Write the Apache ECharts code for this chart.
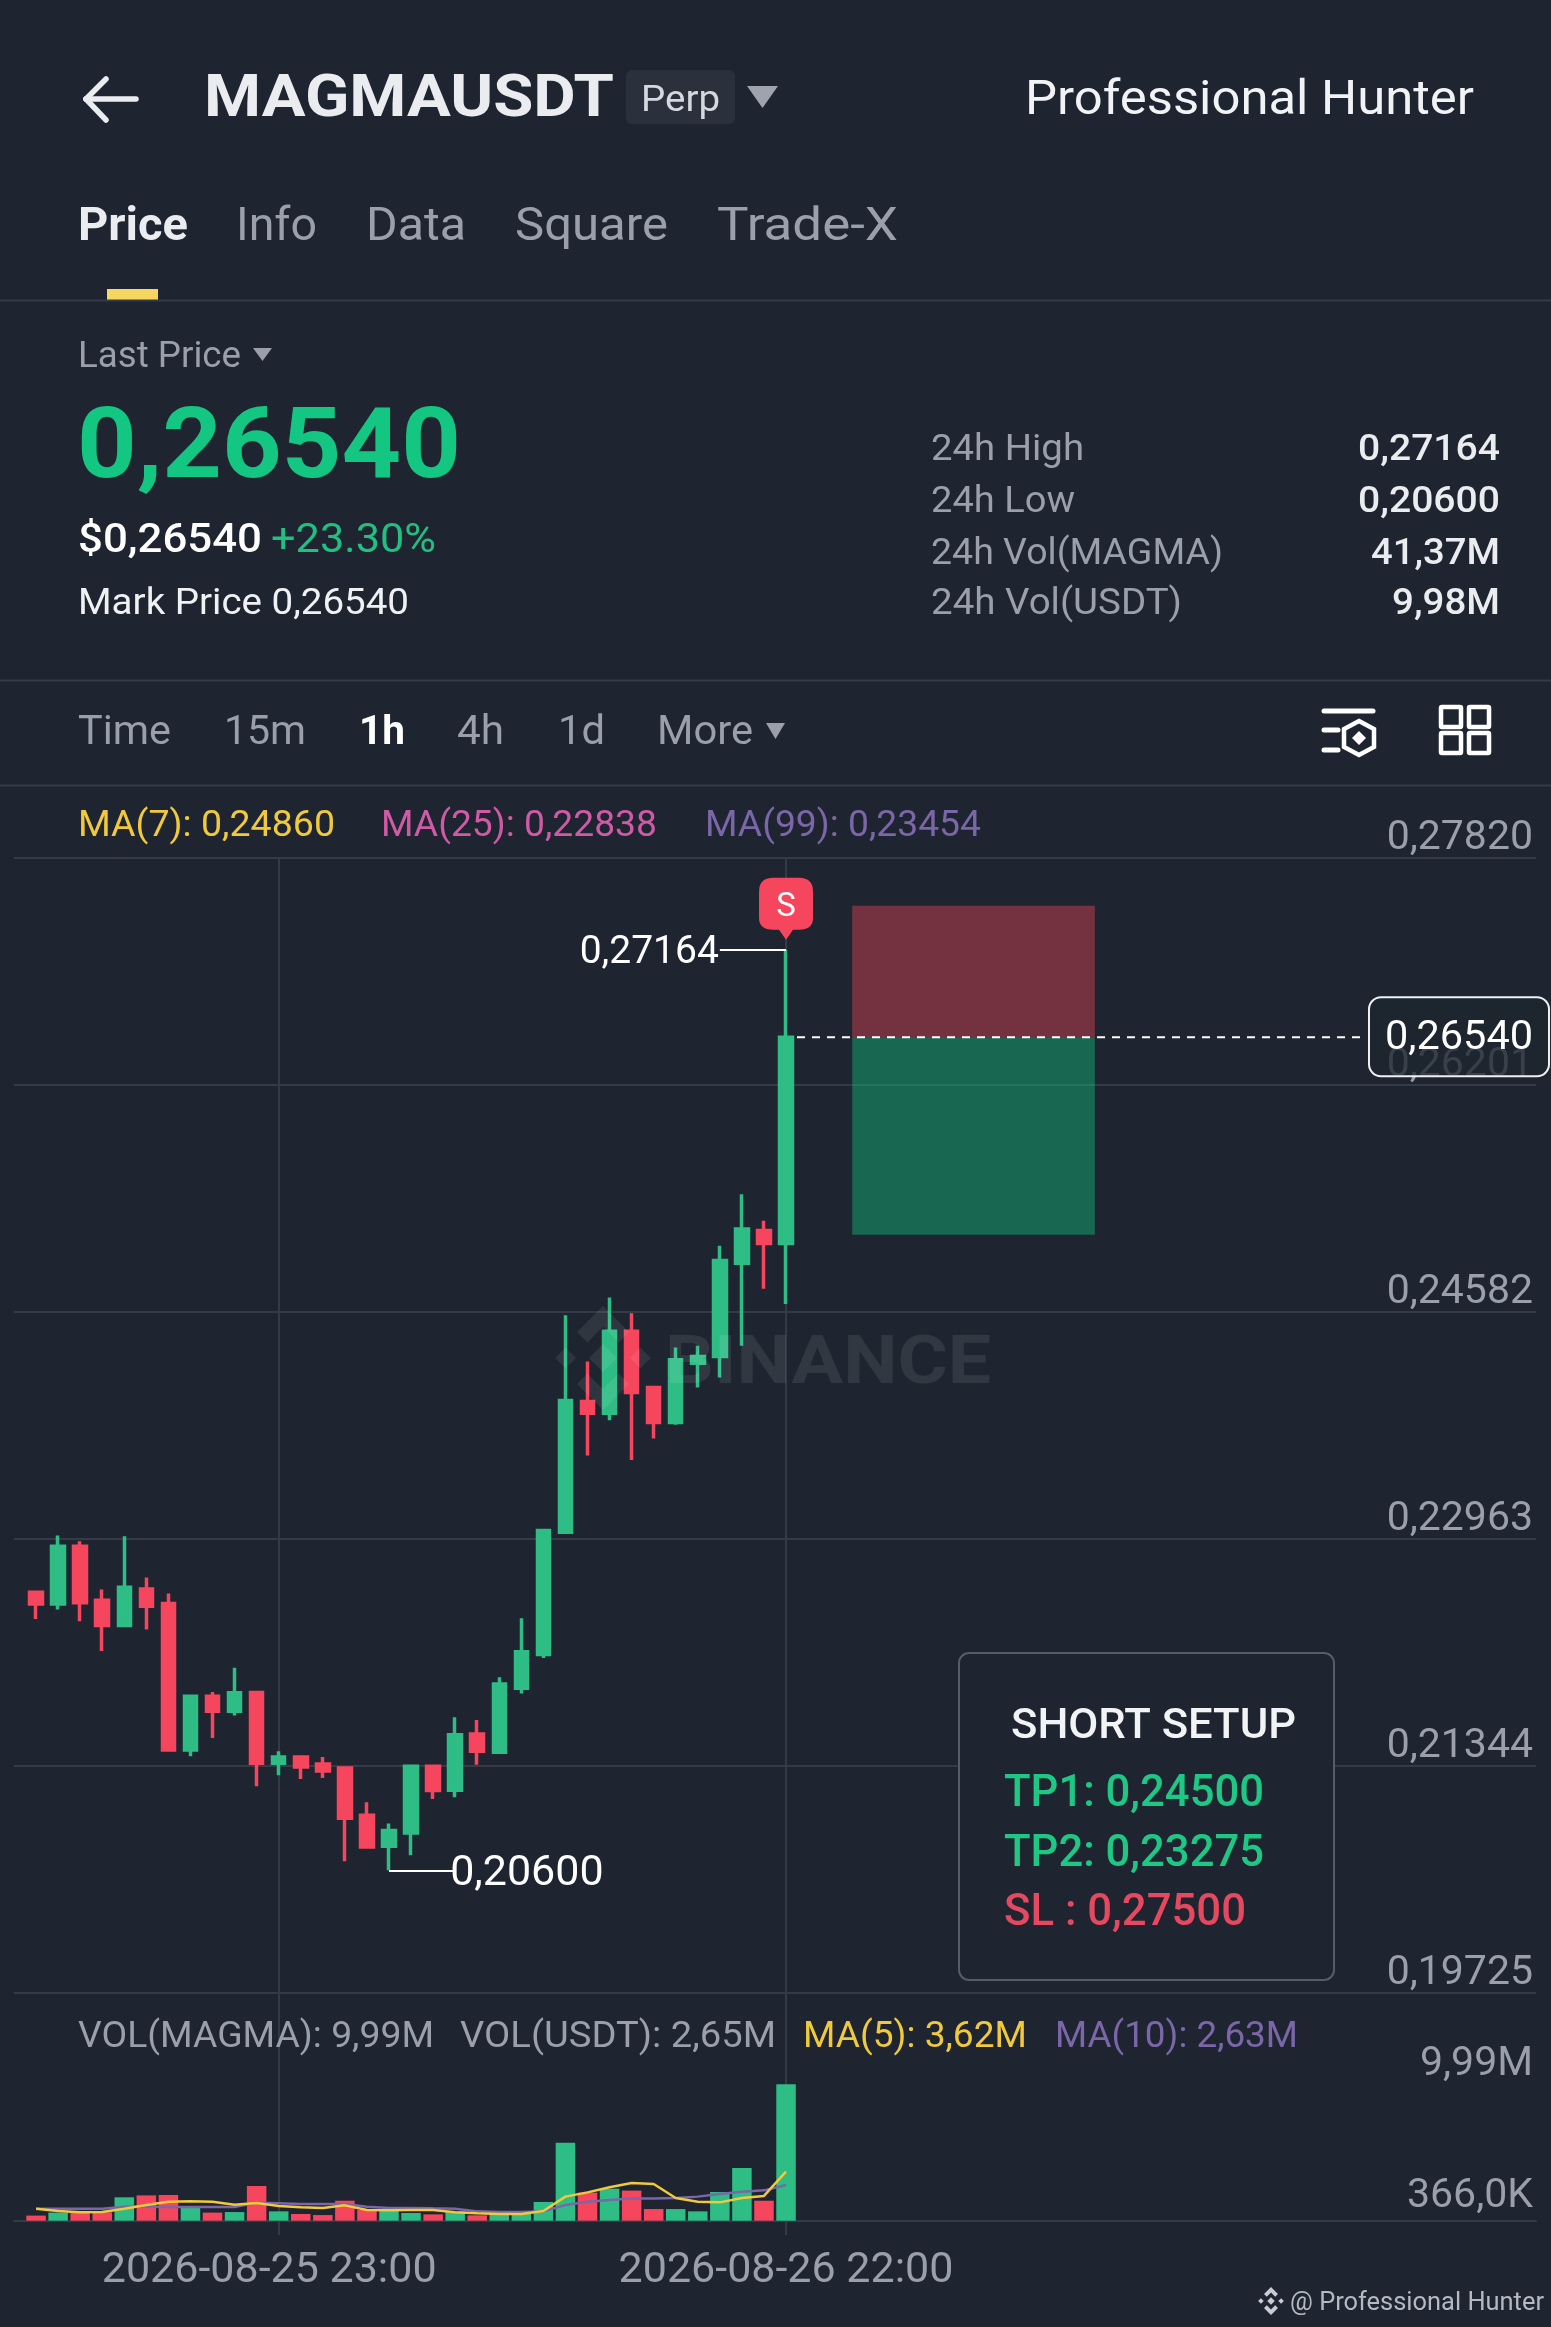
<!DOCTYPE html>
<html><head><meta charset="utf-8">
<style>html,body{margin:0;padding:0;background:#1e2530}#c{width:1551px;height:2327px}</style>
<script src="https://cdn.jsdelivr.net/npm/echarts@6/dist/echarts.min.js"></script>
</head><body><div id="c"></div>
<script>
const times=['2026-08-25 12:00','2026-08-25 13:00','2026-08-25 14:00','2026-08-25 15:00','2026-08-25 16:00','2026-08-25 17:00','2026-08-25 18:00','2026-08-25 19:00','2026-08-25 20:00','2026-08-25 21:00','2026-08-25 22:00','2026-08-25 23:00','2026-08-26 00:00','2026-08-26 01:00','2026-08-26 02:00','2026-08-26 03:00','2026-08-26 04:00','2026-08-26 05:00','2026-08-26 06:00','2026-08-26 07:00','2026-08-26 08:00','2026-08-26 09:00','2026-08-26 10:00','2026-08-26 11:00','2026-08-26 12:00','2026-08-26 13:00','2026-08-26 14:00','2026-08-26 15:00','2026-08-26 16:00','2026-08-26 17:00','2026-08-26 18:00','2026-08-26 19:00','2026-08-26 20:00','2026-08-26 21:00','2026-08-26 22:00'];
const opens=[.22583,.22499,.22911,.22526,.22345,.22606,.22502,.21458,.21841,.21734,.21867,.21363,.21408,.21358,.21330,.20992,.20771,.20866,.21342,.21170,.21572,.21441,.21898,.22138,.23011,.23942,.23859,.24444,.24042,.23793,.24216,.24263,.24929,.25162,.25069];
const closes=[.22499,.22911,.22507,.22345,.22618,.22483,.21458,.21841,.21734,.21865,.21363,.21408,.21337,.21308,.20971,.20766,.20883,.21342,.21168,.21567,.21449,.21929,.22159,.23022,.23950,.23859,.24444,.24007,.23793,.24240,.24263,.24948,.25172,.25069,.26540];
const lows=[.22392,.22459,.22376,.22164,.22345,.22316,.21458,.21413,.21544,.21703,.21199,.21277,.21251,.21258,.20664,.20766,.20600,.20707,.21109,.21120,.21353,.21441,.21860,.22114,.23011,.23557,.23809,.23526,.23679,.23776,.24042,.24114,.24340,.24746,.24637];
const highs=[.22583,.22987,.22946,.22602,.22982,.22687,.22573,.21841,.21872,.22045,.21877,.21449,.21418,.21408,.21342,.21085,.20933,.21346,.21351,.21691,.21672,.21976,.22397,.23030,.24558,.24228,.24684,.24572,.24045,.24328,.24340,.25053,.25421,.25231,.27164];
const volumes=[.37,.59,.66,.61,1.71,1.85,1.88,.93,.59,.63,2.54,.68,.49,.41,1.46,.78,.78,.56,.46,.66,.39,.54,.54,1.37,5.71,2.05,2.34,2.20,.85,.85,.68,2.10,3.86,1.46,9.99];
const ma5=[.88,.71,.61,.63,.88,1.15,1.39,1.42,1.39,1.17,1.29,1.07,.98,.93,1.12,.78,.76,.78,.78,.61,.54,.49,.49,.71,1.76,2.07,2.44,2.76,2.68,1.66,1.39,1.34,1.66,1.81,3.59];
const ma10=[.88,.88,.88,.88,1.02,1.02,1.00,1.00,1.00,1.00,1.32,1.27,1.22,1.22,1.22,1.02,.93,.93,.90,.88,.68,.63,.63,.68,1.15,1.39,1.51,1.63,1.63,1.66,1.76,1.95,2.12,2.22,2.61];
const priceTicks=[.19725,.21344,.22963,.24582,.26201,.27820];
const volTicks=[.366,9.99];
const lastPrice=.2654, high24=.27164, low24=.206, slTop=.27478, tpBottom=.25131;
const FONT='Roboto';
const GREEN='#2ebd85',RED='#f6465d',GRID='#343b47',GRAY='#9a9fab',BG='#1e2530';
const SLOTS=70, first=1; // candle i sits at category i+first
const cats=Array.from({length:SLOTS},(_,k)=>times[k-first]||'');
const comma=v=>v.toFixed(5).replace('.',',');
const labelledX=new Set([12,35]);
const chart=echarts.init(document.getElementById('c'),null,{renderer:'canvas'});
chart.setOption({
 backgroundColor:BG,animation:false,textStyle:{fontFamily:FONT},
 grid:[{left:14,top:857.7,width:1522,height:1135.3},{left:14,top:1993,width:1522,height:242}],
 xAxis:[0,1].map(g=>({type:'category',gridIndex:g,data:cats,boundaryGap:false,
   axisTick:{show:false},
   axisLine:g?{show:true,onZero:true,lineStyle:{color:GRID,width:2}}:{show:false},
   splitLine:{show:true,interval:(k)=>labelledX.has(k),lineStyle:{color:GRID,width:2}},
   axisLabel:g?{show:true,interval:(k)=>labelledX.has(k),color:GRAY,fontSize:43,fontFamily:FONT,margin:15,hideOverlap:false,
      formatter:(v,k)=>k===12?'{a|'+v+'}':v,rich:{a:{fontSize:43,color:GRAY,fontFamily:FONT,padding:[0,19,0,0]}}}:{show:false}})),
 yAxis:[
  {type:'value',gridIndex:0,position:'right',min:.19725,max:.2782,
   axisLine:{show:false},axisTick:{show:false,customValues:priceTicks},
   splitLine:{show:true,lineStyle:{color:GRID,width:2}},
   axisLabel:{inside:true,margin:3,customValues:priceTicks,color:GRAY,fontSize:41,lineHeight:38,fontFamily:FONT,verticalAlign:'bottom',formatter:comma}},
  {type:'value',gridIndex:1,position:'right',min:-1.05,max:16.67,
   axisLine:{show:false},axisTick:{show:false,customValues:volTicks},splitLine:{show:false},
   axisLabel:{inside:true,margin:3,customValues:volTicks,color:GRAY,fontSize:41,lineHeight:38,fontFamily:FONT,verticalAlign:'bottom',
     formatter:v=>v>=1?v.toFixed(2).replace('.',',')+'M':(v*1000).toFixed(1).replace('.',',')+'K'}}
 ],
 series:[
  {type:'candlestick',name:'Price',xAxisIndex:0,yAxisIndex:0,barWidth:13,z:3,
   encode:{x:0,y:[1,2,3,4]},
   data:opens.map((o,i)=>[i+first,o,closes[i],lows[i],highs[i]]),
   itemStyle:{color:GREEN,color0:RED,borderColor:GREEN,borderColor0:RED,borderWidth:3.5},
   markArea:{silent:true,z:1,data:[
     [{coord:[38,slTop],itemStyle:{color:'rgba(246,70,93,0.4)'}},{coord:[49,lastPrice]}],
     [{coord:[38,lastPrice],itemStyle:{color:'rgba(14,203,129,0.4)'}},{coord:[49,tpBottom]}]]},
   markLine:{silent:true,symbol:'none',z:4,lineStyle:{color:'#ffffff',width:2,type:'solid'},
     label:{color:'#fff',fontFamily:FONT,distance:1},data:[
     [{coord:[32,high24],label:{position:'start',fontSize:39,offset:[0,4],formatter:comma(high24)}},{coord:[35,high24]}],
     [{coord:[17,low24],label:{position:'end',fontSize:43,offset:[-6,4],formatter:comma(low24)}},{coord:[20,low24]}]]},
   markPoint:{silent:true,z:5,data:[{coord:[35,high24],symbol:'path://M14 0 H40 Q54 0 54 14 V40 Q54 52 40 52 L34 52 L27 62 L20 52 L14 52 Q0 52 0 40 V14 Q0 0 14 0 Z',
     symbolSize:[54,62],symbolOffset:[0,-41],itemStyle:{color:RED},
     label:{show:true,formatter:'S',color:'#fff',fontSize:33,fontFamily:FONT,offset:[0,-1]}}]}},
  {type:'bar',name:'VOL',xAxisIndex:1,yAxisIndex:1,barWidth:19.5,z:2,
   data:volumes.map((v,i)=>({value:[i+first,v],itemStyle:{color:closes[i]>=opens[i]?GREEN:RED}}))},
  {type:'line',name:'MA5',xAxisIndex:1,yAxisIndex:1,showSymbol:false,z:4,lineStyle:{color:'#f0c93c',width:2.5},data:ma5.map((v,i)=>[i+first,v])},
  {type:'line',name:'MA10',xAxisIndex:1,yAxisIndex:1,showSymbol:false,z:3,lineStyle:{color:'#7a66a8',width:2.5},data:ma10.map((v,i)=>[i+first,v])}
 ]
});
// page furniture
const Z=50;
const mctx=document.createElement('canvas').getContext('2d');
// text fitted to a measured width, so Roboto occupies the same span as the original UI font
const T=(x,y,text,size,fill,weight,w,align)=>{
  weight=weight||400;align=align||'left';
  mctx.font=weight+' '+size+'px '+FONT;
  const sx=w?w/mctx.measureText(text).width:1;
  return {type:'text',z:Z,x,y,scaleX:sx,style:{x:0,y:0,text,fontSize:size,fill,fontWeight:weight,fontFamily:FONT,align,verticalAlign:'middle'}};
};
const R=(x,y,w,h,fill,stroke,r,lw)=>({type:'rect',z:Z-1,shape:{x,y,width:w,height:h,r:r||0},style:{fill:fill||'none',stroke:stroke||null,lineWidth:lw||0}});
const P=(pts,fill)=>({type:'polygon',z:Z,shape:{points:pts},style:{fill}});
const L=(x1,y1,x2,y2,stroke,lw,dash)=>({type:'line',z:Z,shape:{x1,y1,x2,y2},style:{stroke,lineWidth:lw,lineDash:dash||null,lineCap:dash?'butt':'round'}});
const diamond=(cx,cy,r,fill)=>P([[cx,cy-r],[cx+r,cy],[cx,cy+r],[cx-r,cy]],fill);
const logo=(cx,cy,s,fill)=>[diamond(cx,cy,.27*s,fill),diamond(cx-.72*s,cy,.2*s,fill),diamond(cx+.72*s,cy,.2*s,fill),
  P([[cx,cy-s],[cx+.5*s,cy-.5*s],[cx+.3*s,cy-.3*s],[cx,cy-.6*s],[cx-.3*s,cy-.3*s],[cx-.5*s,cy-.5*s]],fill),
  P([[cx,cy+s],[cx+.5*s,cy+.5*s],[cx+.3*s,cy+.3*s],[cx,cy+.6*s],[cx-.3*s,cy+.3*s],[cx-.5*s,cy+.5*s]],fill)];
const lastY=chart.convertToPixel({yAxisIndex:0},lastPrice);
const W='#eaecef', GR='#13c782';
const els=[
 // header
 L(86,99,136,99,W,5.5),L(86,99,106,79,W,5.5),L(86,99,106,120,W,5.5),
 T(204,101,'MAGMAUSDT',60,W,700,410),
 R(626,70,109,54,'#2a303c',null,6),
 T(641,102,'Perp',37,'#d5d8dd',400,79),
 P([[747,86],[778,86],[762.5,108]],'#9ea3ae'),
 T(1025,102,'Professional Hunter',48,'#f2f3f5',400,449),
 T(78,228,'Price',47,W,700,110),T(236,228,'Info',47,GRAY,400,81),T(366,228,'Data',47,GRAY,400,100),T(515,228,'Square',47,GRAY,400,153),T(717,228,'Trade-X',47,GRAY,400,181),
 R(107,289,51,11,'#f6d65e'),
 L(0,300.5,1551,300.5,GRID,2),
 T(78,358,'Last Price',37,GRAY,400,163),P([[253,348],[272,348],[262.5,361]],GRAY),
 T(77,452,'0,26540',99,GR,700,384),
 T(78,542,'$0,26540',41,'#fff',500,184),T(271,542,'+23.30%',41,'#22bf82',400,165),
 T(78,605,'Mark Price 0,26540',37,'#f0f1f3',400,331),
 T(931,451,'24h High',37,GRAY,400,153),T(931,503,'24h Low',37,GRAY,400,144),T(931,555,'24h Vol(MAGMA)',37,GRAY,400,292),T(931,605,'24h Vol(USDT)',37,GRAY,400,251),
 T(1500,451,'0,27164',37,W,500,142,'right'),T(1500,503,'0,20600',37,W,500,142,'right'),T(1500,555,'41,37M',37,W,500,129,'right'),T(1500,605,'9,98M',37,W,500,108,'right'),
 L(0,680.5,1551,680.5,GRID,2),
 T(78,734,'Time',41,GRAY,400,93),T(224,734,'15m',41,GRAY,400,82),T(359,734,'1h',41,'#fff',700,46),T(457,734,'4h',41,GRAY,400,47),T(558,734,'1d',41,GRAY,400,47),T(657,734,'More',41,GRAY,400,96),
 P([[766,723],[785,723],[775.5,739]],GRAY),
 L(0,785.5,1551,785.5,GRID,2),
 // toolbar icons
 L(1324,711,1373,711,'#fff',5),L(1324,730,1338,730,'#fff',5),L(1324,750,1338,750,'#fff',5),
 {type:'polygon',z:Z,shape:{points:[[1359,721],[1374,729],[1374,747],[1359,755],[1344,747],[1344,729]]},style:{fill:'none',stroke:'#fff',lineWidth:4.5}},
 diamond(1359,738,7,'#fff'),
 R(1441,707,20,20,null,'#fff',1,4.5),R(1469,707,20,20,null,'#fff',1,4.5),R(1441,733,20,20,null,'#fff',1,4.5),R(1469,733,20,20,null,'#fff',1,4.5),
 // legends
 T(78,827,'MA(7): 0,24860',36,'#f0c93c',400,257),T(381,827,'MA(25): 0,22838',36,'#cf5aa6',400,276),T(705,827,'MA(99): 0,23454',36,'#7a66a8',400,276),
 T(78,2038,'VOL(MAGMA): 9,99M',36,GRAY,400,356),T(460,2038,'VOL(USDT): 2,65M',36,GRAY,400,316),T(803,2038,'MA(5): 3,62M',36,'#f0c93c',400,224),T(1055,2038,'MA(10): 2,63M',36,'#7a66a8',400,243),
 // price tag + dashed line
 L(797,lastY,1366,lastY,'#fff',2,[8,7]),
 {type:'rect',z:Z+1,shape:{x:1369,y:lastY-40,width:180,height:79,r:12},style:{fill:'rgba(30,37,48,0.78)',stroke:'#eef0f2',lineWidth:2}},
 {...T(1533,lastY+2,comma(lastPrice),41,'#fff',400,148,'right'),z:Z+2},
 // setup box
 {type:'rect',z:Z-1,shape:{x:959,y:1653,width:375,height:327,r:10},style:{fill:BG,stroke:'#565d69',lineWidth:2}},
 T(1011,1727,'SHORT SETUP',42,'#f2f3f5',500,285),
 T(1004,1795,'TP1: 0,24500',44,'#1fc784',500,260),T(1004,1855,'TP2: 0,23275',44,'#1fc784',500,260),T(1004,1914,'SL : 0,27500',44,'#e5485f',500,242),
 // watermark
 ...logo(603,1358,52,'rgba(255,255,255,0.08)'),
 {...T(665,1366,'BINANCE',67,'rgba(255,255,255,0.09)',700,326)},
 // footer
 ...logo(1271,2301,14,'#c9ccd2'),
 T(1290,2303,'@ Professional Hunter',26,'#b5b9c1',400,254)
];
chart.setOption({graphic:{elements:els}});
</script></body></html>
